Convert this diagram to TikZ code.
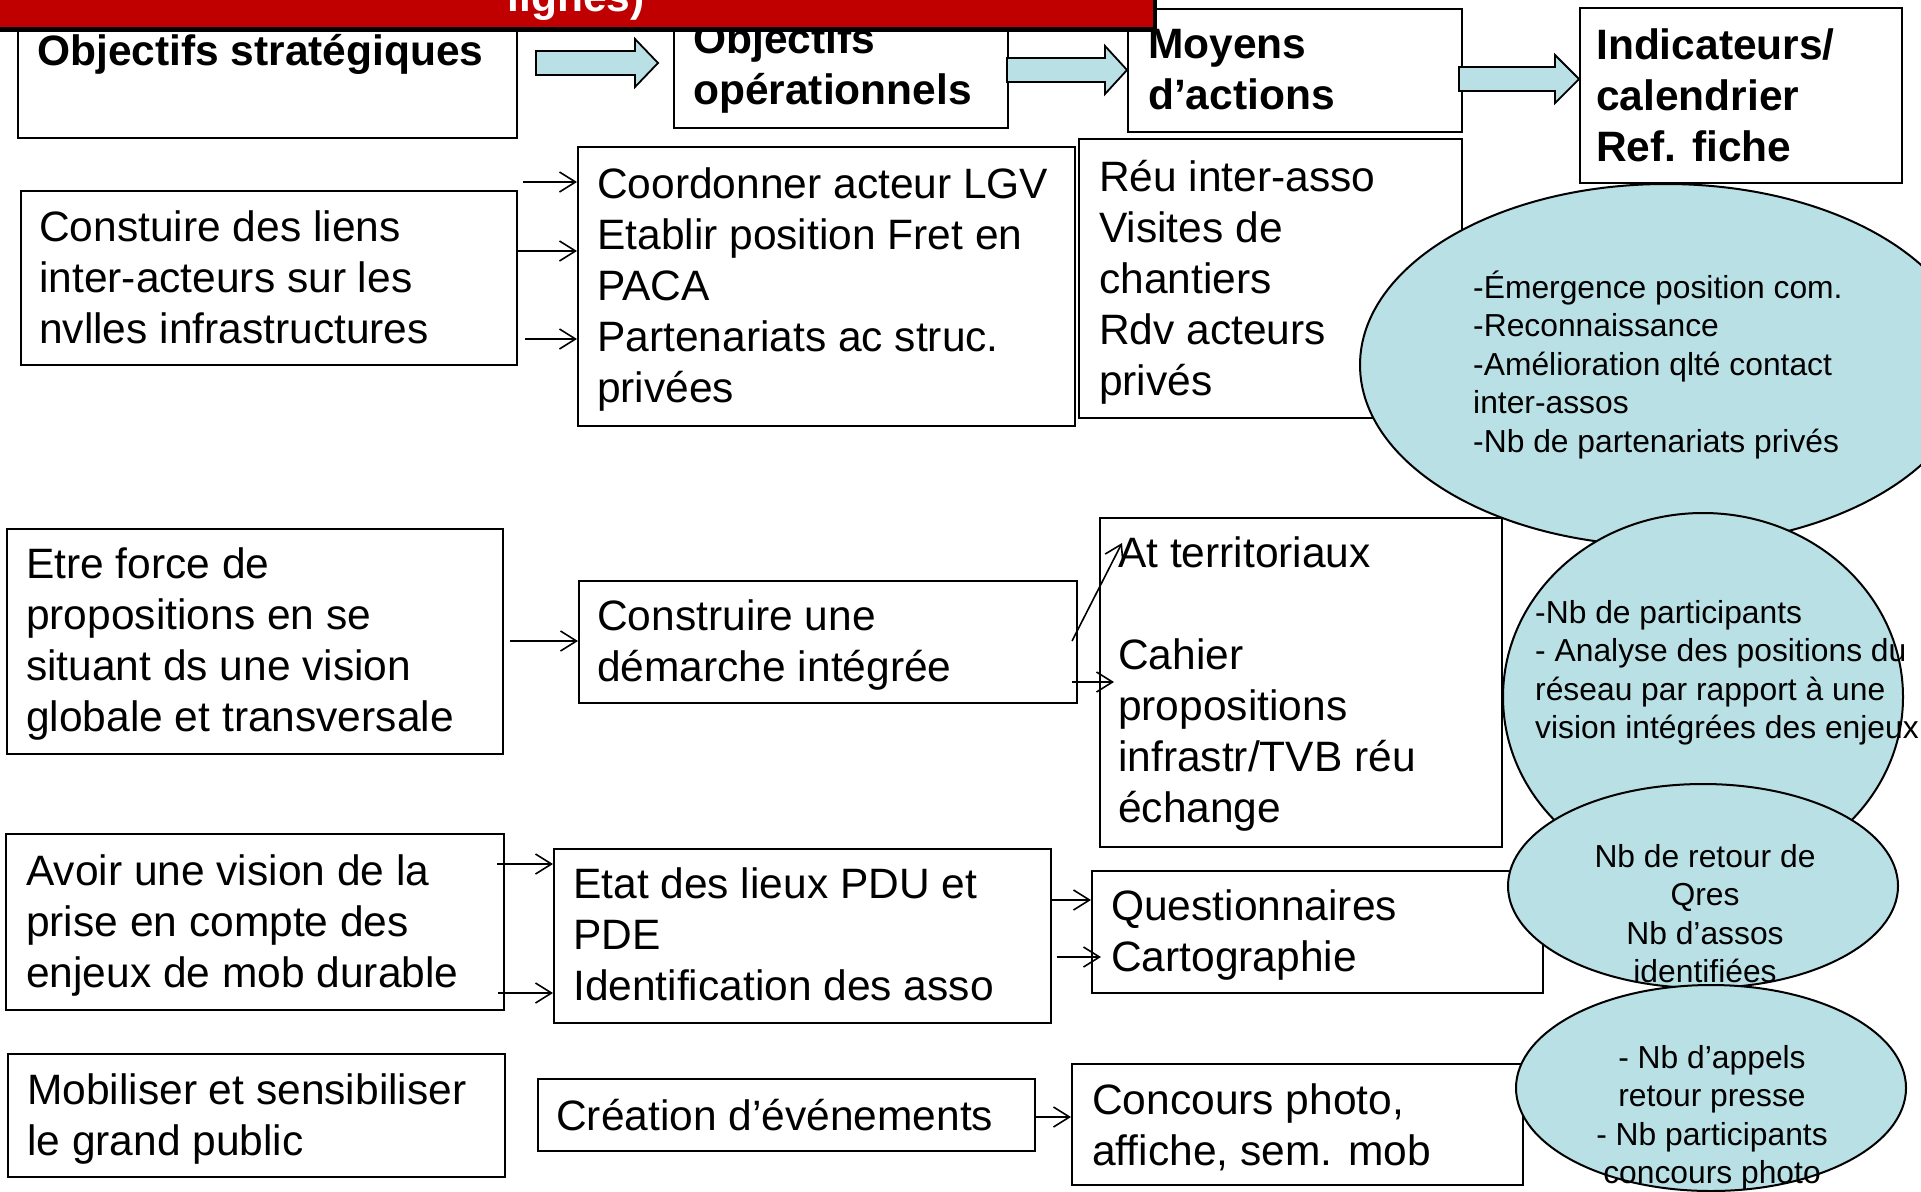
\documentclass[tikz,border=0pt]{standalone}
\usepackage{fontspec}
\setmainfont{Liberation Sans}
\usetikzlibrary{shapes.geometric,arrows.meta}
\definecolor{bluefill}{RGB}{185,224,228}
\definecolor{bannerred}{RGB}{192,0,0}
\newcommand\mystrutA{\rule{0pt}{40pt}}
\newcommand\mystrutB{\rule{0pt}{31pt}}
\newcommand\blockarr[6]{%
  \draw[blockarrow] (#1,#4-#5) -- (#2,#4-#5) -- (#2,#4-#6) -- (#3,#4) -- (#2,#4+#6) -- (#2,#4+#5) -- (#1,#4+#5) -- cycle;}
\begin{document}
\begin{tikzpicture}[x=1pt,y=-1pt,
  boxst/.style={draw=black, line width=2pt, fill=white, inner sep=0pt, anchor=north west},
  ellst/.style={ellipse, draw=black, line width=2pt, fill=bluefill, inner sep=0pt},
  big/.style={inner sep=0pt, align=left, anchor=north west, font=\fontsize{42.5}{51}\selectfont},
  bigb/.style={inner sep=0pt, align=left, anchor=north west, font=\fontsize{42.5}{51}\selectfont\bfseries},
  small/.style={inner sep=0pt, align=left, anchor=north west, font=\fontsize{31.8}{38.5}\selectfont},
  smallc/.style={inner sep=0pt, align=center, anchor=north, font=\fontsize{31.8}{38.5}\selectfont},
  conn/.style={line width=1.6pt, -{Straight Barb[length=16pt,width=20pt]}},
  blockarrow/.style={draw=black, line width=1.8pt, fill=bluefill, line join=miter}
]
\useasboundingbox (0,0) rectangle (1921,1191);
\fill[white] (0,0) rectangle (1921,1191);

% header boxes
\node[boxst, minimum width=499pt, minimum height=117pt] (hA) at (17,20) {};
\node[boxst, minimum width=334pt, minimum height=112pt] (hB) at (673,15) {};
\node[boxst, minimum width=334pt, minimum height=123pt] (hC) at (1127,8) {};
\node[boxst, minimum width=322pt, minimum height=175pt] (hD) at (1579,7) {};
\node[bigb] (hAt) at (37,25) {\mystrutA Objectifs stratégiques};
\node[bigb] (hBt) at (693,13) {\mystrutA Objectifs\\opérationnels};
\node[bigb] (hCt) at (1148,18) {\mystrutA Moyens\\d’actions};
\node[bigb] (hDt) at (1596,19) {\mystrutA Indicateurs/\\calendrier\\Ref. fiche};

\blockarr{536}{635}{658}{63}{12}{24}
\blockarr{1007}{1105}{1127}{70}{12}{24}
\blockarr{1459}{1555}{1579}{79}{12}{24}

% row 1
\node[boxst, minimum width=496pt, minimum height=174pt] (r1a) at (20,190) {};
\node[boxst, minimum width=497pt, minimum height=279pt] (r1b) at (577,146) {};
\node[boxst, minimum width=383pt, minimum height=279pt] (r1c) at (1078,138) {};
\node[big] (r1at) at (39,201) {\mystrutA Constuire des liens\\inter-acteurs sur les\\nvlles infrastructures};
\node[big] (r1bt) at (597,158) {\mystrutA Coordonner acteur LGV\\Etablir position Fret en\\PACA\\Partenariats ac struc.\\privées};
\node[big] (r1ct) at (1099,151) {\mystrutA Réu inter-asso\\Visites de\\chantiers\\Rdv acteurs\\privés};
\coordinate (s1a) at (523,182);
\coordinate (s1c) at (525,339);
\draw[conn] (s1a) -- (s1a -| r1b.west);
\draw[conn] (r1a.east |- 0,251) -- (r1b.west |- 0,251);
\draw[conn] (s1c) -- (s1c -| r1b.west);

% row 2
\node[boxst, minimum width=496pt, minimum height=225pt] (r2a) at (6,528) {};
\node[boxst, minimum width=498pt, minimum height=122pt] (r2b) at (578,580) {};
\node[boxst, minimum width=402pt, minimum height=329pt] (r2c) at (1099,517) {};
\node[big] (r2at) at (26,538) {\mystrutA Etre force de\\propositions en se\\situant ds une vision\\globale et transversale};
\node[big] (r2bt) at (597,590) {\mystrutA Construire une\\démarche intégrée};
\node[big] (r2ct) at (1118,527) {\mystrutA At territoriaux\\[51pt]Cahier\\propositions\\infrastr/TVB réu\\échange};
\coordinate (s2) at (510,641);
\coordinate (s2a) at (1072,641);
\coordinate (t2a) at (1122,543);
\coordinate (s2b) at (1072,682);
\coordinate (t2b) at (1114,682);
\draw[conn] (s2) -- (s2 -| r2b.west);
\draw[conn] (s2a) -- (t2a);
\draw[conn] (s2b) -- (t2b);

% row 3
\node[boxst, minimum width=498pt, minimum height=176pt] (r3a) at (5,833) {};
\node[boxst, minimum width=497pt, minimum height=174pt] (r3b) at (553,848) {};
\node[boxst, minimum width=451pt, minimum height=122pt] (r3c) at (1091,870) {};
\node[big] (r3at) at (26,845) {\mystrutA Avoir une vision de la\\prise en compte des\\enjeux de mob durable};
\node[big] (r3bt) at (573,858) {\mystrutA Etat des lieux PDU et\\PDE\\Identification des asso};
\node[big] (r3ct) at (1111,880) {\mystrutA Questionnaires\\Cartographie};
\coordinate (s3a) at (497,864);
\coordinate (s3b) at (498,993);
\coordinate (s3d) at (1057,957);
\coordinate (t3d) at (1101,957);
\draw[conn] (s3a) -- (s3a -| r3b.west);
\draw[conn] (s3b) -- (s3b -| r3b.west);
\draw[conn] (r3b.east |- 0,900) -- (r3c.west |- 0,900);
\draw[conn] (s3d) -- (t3d);

% row 4
\node[boxst, minimum width=497pt, minimum height=123pt] (r4a) at (7,1053) {};
\node[boxst, minimum width=497pt, minimum height=72pt] (r4b) at (537,1078) {};
\node[boxst, minimum width=451pt, minimum height=121pt] (r4c) at (1071,1063) {};
\node[big] (r4at) at (27,1064) {\mystrutA Mobiliser et sensibiliser\\le grand public};
\node[big] (r4bt) at (556,1090) {\mystrutA Création d’événements};
\node[big] (r4ct) at (1092,1074) {\mystrutA Concours photo,\\affiche, sem. mob};
\draw[conn] (r4b.east |- 0,1117) -- (r4c.west |- 0,1117);

% ellipses
\node[ellst, minimum width=612pt, minimum height=362pt] (e1) at (1666,365) {};
\node[small] (e1t) at (1473,267) {\mystrutB -Émergence position com.\\-Reconnaissance\\-Amélioration qlté contact\\inter-assos\\-Nb de partenariats privés};
\node[ellst, minimum width=400pt, minimum height=368pt] (e2) at (1703,697) {};
\node[small] (e2t) at (1535,592) {\mystrutB -Nb de participants\\- Analyse des positions du\\réseau par rapport à une\\vision intégrées des enjeux};
\node[ellst, minimum width=390pt, minimum height=204pt] (e3) at (1703,886) {};
\node[smallc] (e3t) at (1705,836) {\mystrutB Nb de retour de\\Qres\\Nb d’assos\\identifiées};
\node[ellst, minimum width=390pt, minimum height=206pt] (e4) at (1711,1088) {};
\node[smallc] (e4t) at (1712,1037) {\mystrutB - Nb d’appels\\retour presse\\- Nb participants\\concours photo};

% banner
\fill[black] (0,-10) rectangle (1157,32);
\fill[bannerred] (0,-10) rectangle (1153,27);
\node[anchor=base, inner sep=0pt, text=white, font=\fontsize{42.5}{51}\selectfont\bfseries] (title) at (576,12) {lignes)};
\end{tikzpicture}
\end{document}
